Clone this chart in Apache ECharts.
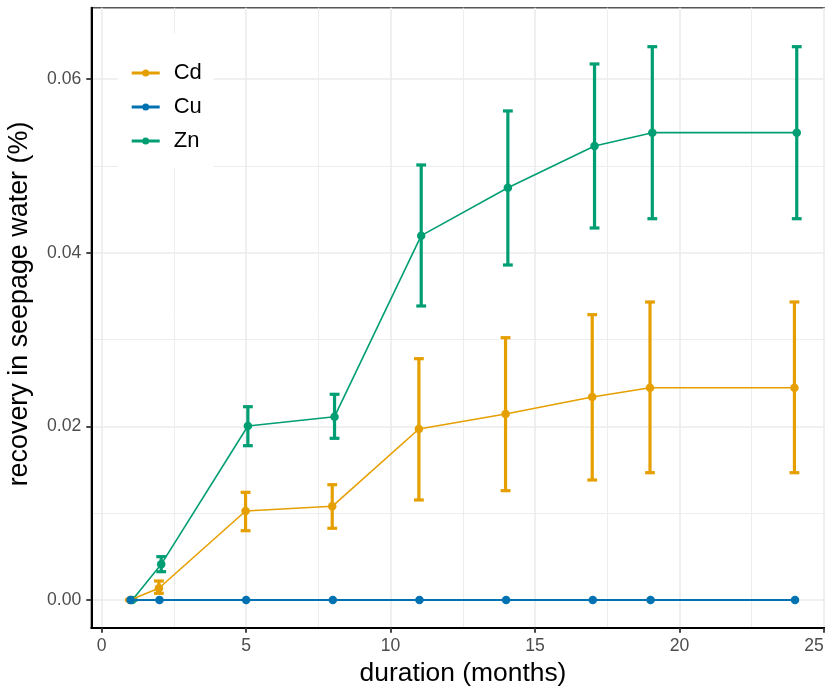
<!DOCTYPE html>
<html>
<head>
<meta charset="utf-8">
<script src="https://cdn.jsdelivr.net/npm/echarts@6/dist/echarts.min.js"></script>
<style>
  html, body { margin: 0; padding: 0; background: #ffffff; }
  #chart { width: 825px; height: 689px; }
</style>
</head>
<body>
<div id="chart"></div>
<script>
// Sampling times (months)
const months = [1, 2, 5, 8, 11, 14, 17, 19, 24];

// Cd recovery (%), mean and error-bar limits
const cdMean = [0, 0.00135, 0.01025, 0.01079, 0.01969, 0.02142, 0.02338, 0.02445, 0.02445];
const cdLow  = [0, 0.00077, 0.00798, 0.00826, 0.01152, 0.01259, 0.01382, 0.01466, 0.01466];
const cdHigh = [0, 0.00219, 0.01240, 0.01328, 0.02779, 0.03021, 0.03286, 0.03432, 0.03432];

// Cu recovery (%)
const cuMean = [0, 0, 0, 0, 0, 0, 0, 0, 0];

// Zn recovery (%), mean and error-bar limits
const znMean = [0, 0.00411, 0.02004, 0.02111, 0.04196, 0.04748, 0.05229, 0.05382, 0.05382];
const znLow  = [0, 0.00326, 0.01777, 0.01862, 0.03386, 0.03858, 0.04284, 0.04391, 0.04391];
const znHigh = [0, 0.00499, 0.02226, 0.02369, 0.05010, 0.05632, 0.06173, 0.06372, 0.06372];

// Axis breaks
const xTicks = [0, 5, 10, 15, 20, 25];
const xMinorTicks = [2.5, 7.5, 12.5, 17.5, 22.5];
const yTicks = [0, 0.02, 0.04, 0.06];
const yMinorTicks = [0.01, 0.03, 0.05];

const FONT = '"Liberation Sans", Arial, Helvetica, sans-serif';
const COLORS = { Cd: '#E69F00', Cu: '#0072B2', Zn: '#009E73' };
const DODGE = { Cd: -0.02, Cu: 0, Zn: 0.06 };   // small horizontal dodge between metals
const CAP = 0.17;                               // half width of error-bar caps (x units)
const X_RANGE = [-0.36, 25.36];
const Y_RANGE = [-0.00319, 0.06821];

// Legend key: a short path with a dot in the middle
const KEY_ICON = 'path://M0,2.1H28V4.9H0Z M10.5,3.5A3.5,3.5,0,1,1,17.5,3.5A3.5,3.5,0,1,1,10.5,3.5Z';

function linePoints(name, mean) {
  return months.map((m, i) => [m + DODGE[name], mean[i]]);
}

function errorRows(low, high) {
  return months.map((m, i) => [m, low[i], high[i]]);
}

function errorBarRenderer(name) {
  const dodge = DODGE[name];
  const color = COLORS[name];
  return function (params, api) {
    const x = api.value(0) + dodge;
    const lo = api.coord([x, api.value(1)]);
    const hi = api.coord([x, api.value(2)]);
    const left = api.coord([x - CAP, 0])[0];
    const right = api.coord([x + CAP, 0])[0];
    const style = { stroke: color, lineWidth: 3.2, fill: null };
    return {
      type: 'group',
      children: [
        { type: 'line', shape: { x1: lo[0], y1: lo[1], x2: hi[0], y2: hi[1] }, style: style },
        { type: 'line', shape: { x1: left, y1: hi[1], x2: right, y2: hi[1] }, style: style },
        { type: 'line', shape: { x1: left, y1: lo[1], x2: right, y2: lo[1] }, style: style }
      ]
    };
  };
}

function lineSeries(name, mean, width, z) {
  return {
    name: name,
    type: 'line',
    data: linePoints(name, mean),
    symbol: 'circle',
    symbolSize: 8.5,
    showSymbol: true,
    z: z,
    itemStyle: { color: COLORS[name] },
    lineStyle: { color: COLORS[name], width: width },
    emphasis: { disabled: true },
    animation: false
  };
}

function errorSeries(name, low, high, z) {
  return {
    name: name + ' sd',
    type: 'custom',
    data: errorRows(low, high),
    encode: { x: 0, y: [1, 2] },
    renderItem: errorBarRenderer(name),
    z: z,
    animation: false
  };
}

const chart = echarts.init(document.getElementById('chart'), null, { renderer: 'canvas' });

chart.setOption({
  backgroundColor: '#ffffff',
  animation: false,
  grid: {
    left: 91.3, top: 7.7, width: 743, height: 620,
    outerBoundsMode: 'none', containLabel: false,
    show: true, borderColor: '#555555', borderWidth: 1.5, backgroundColor: 'transparent'
  },
  xAxis: [
    {
      type: 'value', min: X_RANGE[0], max: X_RANGE[1],
      axisLine: { show: true, onZero: false, lineStyle: { color: '#000000', width: 2 } },
      axisTick: { show: true, length: 5, customValues: xTicks, lineStyle: { color: '#333333', width: 1.8 } },
      axisLabel: {
        customValues: xTicks, color: '#4D4D4D', fontSize: 17.6, fontFamily: FONT, margin: 9,
        alignMaxLabel: 'right'
      },
      splitLine: { show: true, lineStyle: { color: '#EBEBEB', width: 1.6 } }
    },
    {
      type: 'value', min: X_RANGE[0], max: X_RANGE[1], position: 'bottom',
      axisLine: { show: false, onZero: false },
      axisTick: { show: false, customValues: xMinorTicks },
      axisLabel: { show: false, customValues: xMinorTicks },
      splitLine: { show: true, lineStyle: { color: '#EBEBEB', width: 0.9 } }
    }
  ],
  yAxis: [
    {
      type: 'value', min: Y_RANGE[0], max: Y_RANGE[1],
      axisLine: { show: true, onZero: false, lineStyle: { color: '#000000', width: 2 } },
      axisTick: { show: true, length: 5, customValues: yTicks, lineStyle: { color: '#333333', width: 1.8 } },
      axisLabel: {
        customValues: yTicks, color: '#4D4D4D', fontSize: 17.6, fontFamily: FONT, margin: 10,
        formatter: v => v.toFixed(2)
      },
      splitLine: { show: true, lineStyle: { color: '#EBEBEB', width: 1.6 } }
    },
    {
      type: 'value', min: Y_RANGE[0], max: Y_RANGE[1], position: 'left',
      axisLine: { show: false, onZero: false },
      axisTick: { show: false, customValues: yMinorTicks },
      axisLabel: { show: false, customValues: yMinorTicks },
      splitLine: { show: true, lineStyle: { color: '#EBEBEB', width: 0.9 } }
    }
  ],
  legend: {
    orient: 'vertical',
    left: 118, top: 33,
    backgroundColor: '#ffffff',
    padding: [29, 12, 15.5, 13.7],
    itemWidth: 28, itemHeight: 7, itemGap: 12,
    selectedMode: false,
    textStyle: { fontSize: 22, color: '#000000', fontFamily: FONT, lineHeight: 22, padding: [0, 0, 0, 9] },
    data: [
      { name: 'Cd', icon: KEY_ICON },
      { name: 'Cu', icon: KEY_ICON },
      { name: 'Zn', icon: KEY_ICON }
    ]
  },
  graphic: [
    {
      type: 'text', x: 463, y: 674, z: 10,
      style: { text: 'duration (months)', fill: '#000000', fontSize: 26.4, fontFamily: FONT,
               textAlign: 'center', textVerticalAlign: 'middle' }
    },
    {
      type: 'text', x: 20, y: 304, rotation: Math.PI / 2, z: 10,
      style: { text: 'recovery in seepage water (%)', fill: '#000000', fontSize: 26.9, fontFamily: FONT,
               textAlign: 'center', textVerticalAlign: 'middle' }
    }
  ],
  series: [
    lineSeries('Zn', znMean, 1.6, 2),
    errorSeries('Zn', znLow, znHigh, 3),
    lineSeries('Cd', cdMean, 1.6, 4),
    errorSeries('Cd', cdLow, cdHigh, 5),
    lineSeries('Cu', cuMean, 2.2, 6)
  ]
});
</script>
</body>
</html>
